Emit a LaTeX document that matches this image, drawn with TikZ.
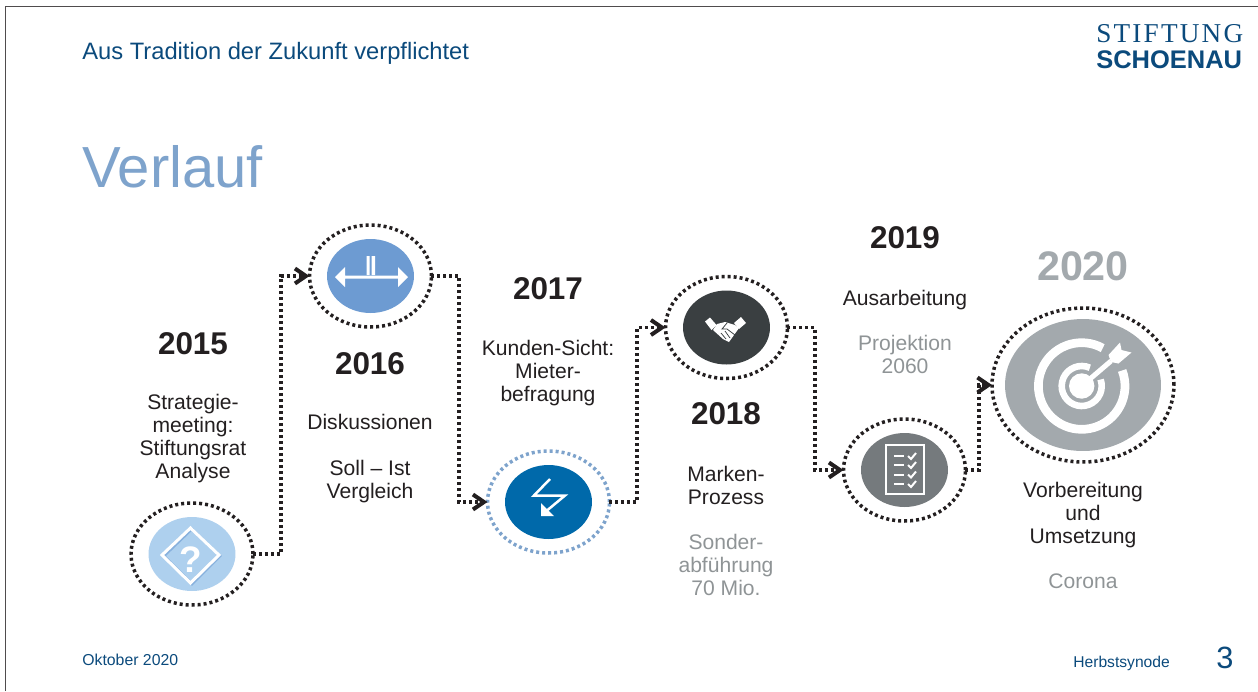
\documentclass[tikz,border=0pt]{standalone}
\usepackage{fontspec}
\setmainfont{Liberation Sans}
\newfontfamily\logofont[LetterSpace=8]{Liberation Serif}
\usetikzlibrary{positioning,shapes.geometric,arrows.meta}

\definecolor{inkdark}{HTML}{231F20}
\definecolor{navy}{HTML}{0B4A7C}
\definecolor{sky}{HTML}{7EA3CC}
\definecolor{notegrey}{HTML}{8F9496}
\definecolor{palegrey}{HTML}{A3A9AD}
\definecolor{discA}{HTML}{AED0EE}
\definecolor{discB}{HTML}{6D9BD2}
\definecolor{discC}{HTML}{0069AA}
\definecolor{discD}{HTML}{3A3F41}
\definecolor{discE}{HTML}{757A7D}

\tikzset{
  ring/.style={ellipse,draw=inkdark,line width=.07cm,dash pattern=on .06cm off .06cm,
    minimum width=2.44cm,minimum height=2.04cm,inner sep=0pt,outer sep=0pt},
  bigring/.style={ring,minimum width=3.64cm,minimum height=3.08cm},
  disc/.style={ellipse,minimum width=1.74cm,minimum height=1.48cm,inner sep=0pt,outer sep=0pt},
  bigdisc/.style={disc,minimum width=3.12cm,minimum height=2.64cm},
  year/.style={font=\fontsize{17.9}{20}\selectfont\bfseries,text=inkdark,inner sep=0pt},
  body/.style={font=\fontsize{12}{13.1}\selectfont,text=inkdark,align=center,inner sep=0pt},
  note/.style={body,text=notegrey},
  head/.style={anchor=base west,inner sep=0pt,text=navy},
  link/.style={draw=inkdark,line width=.07cm,dash pattern=on .06cm off .06cm,
    -{Straight Barb[length=.22cm,width=.3cm,line width=.08cm]}},
  icon/.style={draw=white,line width=.05cm,line join=miter},
}

\begin{document}
\begin{tikzpicture}[x=.02cm,y=.02cm,on grid]
\useasboundingbox (0,0) rectangle (1258,-691);
\draw[line width=.02cm,draw=inkdark!80] (5,-691) -- (5,-6) -- (1258,-6);

\node (AT) [head,font=\fontsize{13.5}{15}\selectfont] at (82,-59) {Aus Tradition der Zukunft verpflichtet};
\node (VL) [head,text=sky,font=\fontsize{33}{36}\selectfont] at (82,-187) {Verlauf};
\node (OK) [head,font=\fontsize{9}{11}\selectfont] at (82,-665) {Oktober 2020};
\node (HS) [head,font=\fontsize{8.9}{11}\selectfont] at (1073,-667) {Herbstsynode};
\node (PG) [head,font=\fontsize{17.5}{20}\selectfont] at (1216,-668) {3};
\node (LA) [head,font=\fontsize{15.5}{17}\selectfont\logofont] at (1096,-42) {STIFTUNG};
\node (LB) [head,font=\fontsize{14.5}{17}\selectfont\bfseries] at (1096,-68) {SCHOENAU};

% rings and discs
\node (R15) [ring] at (192,-554){};
\node (R16) [ring] at (370.5,-276){};
\node (R17) [ring,draw=sky] at (548.5,-502){};
\node (R18) [ring] at (726.5,-327.5){};
\node (R19) [ring] at (904.5,-470){};
\node (R20) [bigring] at (1083,-385){};
\node (D15) [disc,fill=discA] at (R15){};
\node (D16) [disc,fill=discB] at (R16){};
\node (D17) [disc,fill=discC] at (R17){};
\node (D18) [disc,fill=discD] at (R18){};
\node (D19) [disc,fill=discE] at (R19){};
\node (D20) [bigdisc,fill=palegrey] at (R20){};

% texts
\node (Y15) [year] at (193,-344) {2015};
\node (T15) [body,below=95 of Y15] {Strategie-\\meeting:\\Stiftungsrat\\Analyse};
\node (Y16) [year] at (370,-364) {2016};
\node (T16) [body,below=58 of Y16] {Diskussionen};
\node (S16) [body,below=60 of T16] {Soll – Ist\\Vergleich};
\node (Y17) [year] at (548,-289) {2017};
\node (T17) [body,below=84 of Y17] {Kunden-Sicht:\\Mieter-\\befragung};
\node (Y18) [year] at (726,-414) {2018};
\node (T18) [body,below=71 of Y18] {Marken-\\Prozess};
\node (N18) [note,below=80 of T18] {Sonder-\\abführung\\70 Mio.};
\node (Y19) [year] at (905,-238) {2019};
\node (T19) [body,below=62 of Y19] {Ausarbeitung};
\node (N19) [note,below=54 of T19] {Projektion\\2060};
\node (Y20) [year,text=palegrey,font=\fontsize{23.5}{26}\selectfont\bfseries] at (1083,-266) {2020};
\node (T20) [body,below=249 of Y20] {Vorbereitung\\und\\Umsetzung};
\node (N20) [note,below=66 of T20] {Corona};

% connectors
\coordinate (B1) at (281,-276);
\coordinate (B2) at (459,-502);
\coordinate (B3) at (637,-327.5);
\coordinate (B4) at (815,-470);
\coordinate (B5) at (979,-385);
\draw[link] (R15.east) -| (B1) -- (R16.west);
\draw[link] (R16.east) -| (B2) -- (R17.west);
\draw[link] (R17.east) -| (B3) -- (R18.west);
\draw[link] (R18.east) -| (B4) -- (R19.west);
\draw[link] (R19.east) -| (B5) -- (R20.west);

% icon 2015
\draw[discB!60!discA,line width=.05cm] (164,-556) -- (192,-529) -- (220,-556) -- (192,-584) -- cycle;
\draw[icon,line width=.06cm] (162,-555) -- (190.5,-528) -- (219,-555) -- (190.5,-583) -- cycle;
\node (Q15) [text=white,inner sep=0pt,font=\fontsize{21}{22}\selectfont\bfseries] at (190.5,-560) {?};

% icon 2016
\fill[white] (335,-277) -- (345,-267) -- (345,-275.5) -- (398,-275.5) -- (398,-267) -- (408,-277)
  -- (398,-287) -- (398,-278.5) -- (345,-278.5) -- (345,-287) -- cycle;
\fill[white] (366.5,-256) rectangle (369.5,-275) (371.5,-256) rectangle (375,-275);

% icon 2017
\draw[icon] (550,-479) -- (534,-495.5) -- (565,-495.5) -- (544,-513);
\fill[white] (541,-516) -- (541,-503) -- (554,-516) -- cycle;

% icon 2018
\fill[white] (705,-321.5) -- (710,-317.5) -- (716.5,-325) -- (711.5,-330) -- cycle;
\fill[white] (734,-323) -- (741,-317) -- (746,-323) -- (739,-329) -- cycle;
\fill[white] (717,-324) -- (725,-322) -- (735,-325) -- (739,-328) -- (729,-342) -- (723,-339) -- (713,-330) -- cycle;
\draw[discD,line width=.015cm] (727,-323) -- (722,-329) -- (727,-329) -- (735,-335)
  (721,-333) -- (726,-339) (725,-331) -- (730,-338);

% icon 2019
\draw[icon] (886,-445) rectangle (924,-494);
\foreach \yy in {456,465,474.5,484}{
  \draw[white,line width=.04cm] (894,-\yy) -- (904,-\yy);
  \draw[white,line width=.04cm] (908,-\yy) -- (911,-\yy-3) -- (916,-\yy+3);
}

% icon 2020
\draw[white,line width=.174cm] (1081.7,-386) ++(61:43.3) arc[start angle=61,end angle=381,radius=43.3];
\draw[white,line width=.132cm] (1081.7,-386) ++(66:20) arc[start angle=66,end angle=379,radius=20];
\draw[palegrey,line width=.22cm] (1081.7,-386) -- (1112,-359.5);
\fill[white] (1081.7,-386) circle[radius=12.7];
\draw[white,line width=.1cm] (1081.7,-386) -- (1111,-361);
\fill[white] (1108.5,-355) -- (1120,-342.5) -- (1121.5,-350) -- (1131.5,-352.5) -- (1118.5,-363.5) -- (1111,-362) -- cycle;
\end{tikzpicture}
\end{document}
